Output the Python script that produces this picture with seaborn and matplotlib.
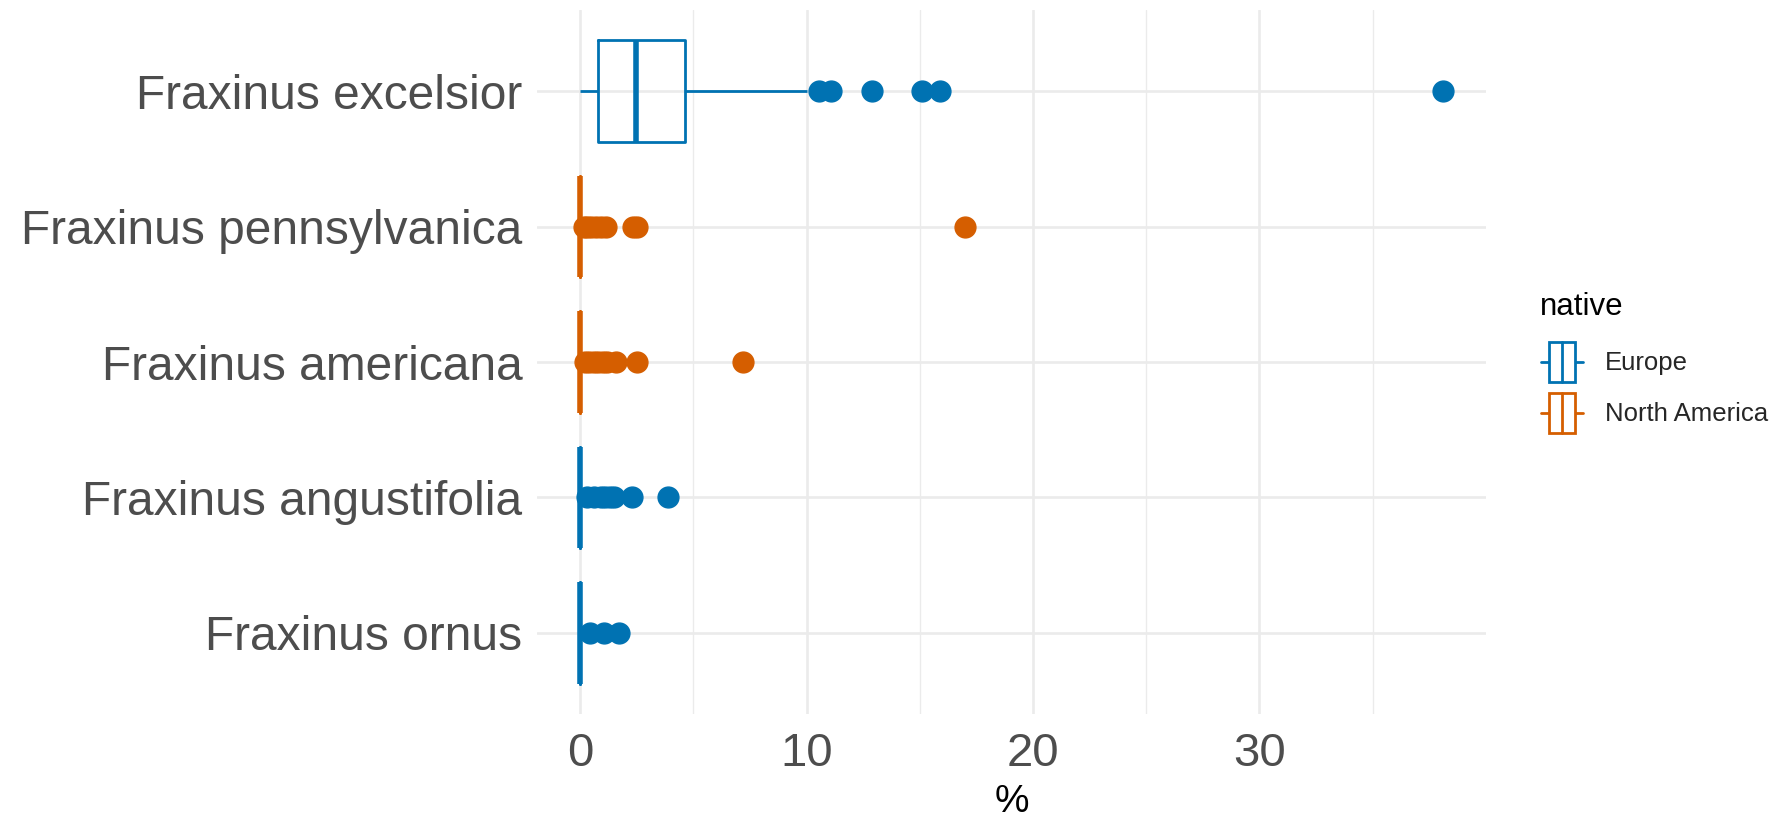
import numpy as np
import pandas as pd
import matplotlib
matplotlib.use("Agg")
import matplotlib.pyplot as plt
import seaborn as sns
from matplotlib.legend_handler import HandlerBase
from matplotlib.patches import Patch, Rectangle
from matplotlib.lines import Line2D

# data (% values per species)
excelsior = [0.0, 0.05, 0.1, 0.2, 0.3, 0.35, 0.45, 0.5, 0.6, 0.7,
             0.78, 0.9, 1.1, 1.3, 1.5, 1.7, 1.9, 2.0, 2.2, 2.35,
             2.47, 2.6, 2.8, 3.0, 3.2, 3.4, 3.7, 3.9, 4.2, 4.4,
             4.64, 5.3, 6.4, 7.8, 10.0,
             10.55, 11.1, 12.9, 15.1, 15.9, 38.1]
pennsylvanica = [0.0] * 45 + [0.15, 0.3, 0.5, 0.7, 0.9, 1.15, 2.35, 2.5, 17.0]
americana = [0.0] * 45 + [0.2, 0.4, 0.6, 0.8, 1.0, 1.2, 1.6, 2.5, 7.2]
angustifolia = [0.0] * 40 + [0.3, 0.6, 0.9, 1.1, 1.3, 1.5, 2.3, 3.9]
ornus = [0.0] * 30 + [0.45, 1.05, 1.7]

species = ["Fraxinus excelsior", "Fraxinus pennsylvanica", "Fraxinus americana",
           "Fraxinus angustifolia", "Fraxinus ornus"]
native = ["Europe", "North America", "North America", "Europe", "Europe"]
values = [excelsior, pennsylvanica, americana, angustifolia, ornus]

native_levels = ["Europe", "North America"]
colors = {"Europe": "#0072B2", "North America": "#D55E00"}

rows = []
for sp, nat, vals in zip(species, native, values):
    for v in vals:
        rows.append((sp, nat, v))
df = pd.DataFrame(rows, columns=["species", "native", "pct"])

sns.set_theme(style="white")
plt.rcParams["font.family"] = ["Liberation Sans", "DejaVu Sans"]

fig, ax = plt.subplots(figsize=(17.8, 8.18), dpi=100)
fig.subplots_adjust(left=537 / 1780, right=1486 / 1780, top=1 - 10 / 818, bottom=1 - 714 / 818)

lw = 2.0
sns.boxplot(data=df, x="pct", y="species", hue="native", order=species,
            hue_order=native_levels, palette=colors, dodge=False, fill=False,
            width=0.75, linewidth=lw, showcaps=False, whis=1.5,
            flierprops=dict(marker="o", markersize=15, markeredgewidth=1),
            medianprops=dict(linewidth=4.0), legend=False, ax=ax, zorder=3)

# filled outlier points like ggplot
for line in ax.lines:
    if line.get_marker() == "o":
        line.set_markerfacecolor(line.get_markeredgecolor())

ax.set_xlim(-1.905, 40.005)
ax.set_ylim(4.6, -0.6)
ax.set_xticks([0, 10, 20, 30])
ax.set_xticks([5, 15, 25, 35], minor=True)
ax.grid(True, which="major", axis="both", color="#EBEBEB", linewidth=1.9, zorder=0)
ax.grid(True, which="minor", axis="x", color="#EBEBEB", linewidth=1.0, zorder=0)
ax.set_axisbelow(True)
for s in ax.spines.values():
    s.set_visible(False)

ax.tick_params(axis="both", which="both", length=0)
ax.tick_params(axis="y", labelsize=34.5, labelcolor="#4D4D4D", pad=10.5)
ax.tick_params(axis="x", labelsize=34, labelcolor="#4D4D4D", pad=13)
ax.set_ylabel("")
ax.set_xlabel("%", fontsize=28, color="black")
ax.xaxis.set_label_coords(0.5, (714 - 812) / 704)
ax.xaxis.label.set_va("baseline")


class BoxKey(HandlerBase):
    def create_artists(self, legend, orig_handle, xdescent, ydescent, width, height, fontsize, trans):
        c = orig_handle.get_edgecolor()
        bw = width * 0.64
        x0 = -xdescent + (width - bw) / 2
        y0 = -ydescent
        ym = y0 + height / 2
        wl = Line2D([-xdescent, x0], [ym, ym], color=c, lw=lw, transform=trans)
        wr = Line2D([x0 + bw, -xdescent + width], [ym, ym], color=c, lw=lw, transform=trans)
        rect = Rectangle((x0, y0), bw, height, facecolor="white", edgecolor=c, lw=lw, transform=trans)
        mid = Line2D([x0 + bw / 2] * 2, [y0, y0 + height], color=c, lw=lw, transform=trans)
        return [wl, wr, rect, mid]


handles = [Patch(facecolor="white", edgecolor=colors[n]) for n in native_levels]
fig.legend(handles, native_levels, handler_map={Patch: BoxKey()},
           loc="upper left", bbox_to_anchor=(1541 / 1780, 1 - 342 / 818),
           frameon=False, fontsize=18.5,
           handlelength=1.634, handleheight=2.02, handletextpad=0.856,
           labelspacing=0.428, borderpad=0, borderaxespad=0)
fig.text(1540 / 1780, 1 - 315 / 818, "native", fontsize=22.5, color="black",
         ha="left", va="baseline")

fig.savefig("out.png", dpi=100)
